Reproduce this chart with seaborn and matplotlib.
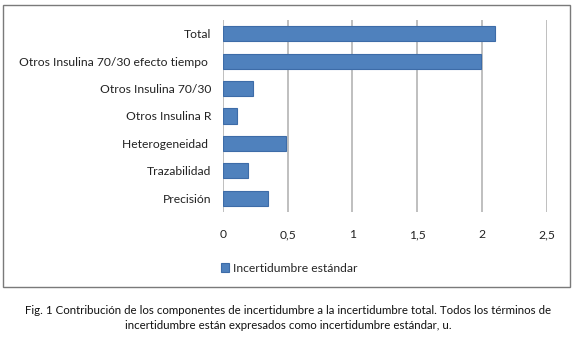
import matplotlib
matplotlib.use("Agg")
import matplotlib.pyplot as plt
import seaborn as sns
import pandas as pd
from matplotlib.patches import Rectangle

categories = ["Total", "Otros Insulina 70/30 efecto tiempo ", "Otros Insulina 70/30",
              "Otros Insulina R", "Heterogeneidad ", "Trazabilidad", "Precisión"]
values = [2.10, 1.99, 0.23, 0.11, 0.49, 0.19, 0.35]
series_name = "Incertidumbre estándar"
x_ticks = [0, 0.5, 1, 1.5, 2, 2.5]
x_tick_labels = ["0", "0,5", "1", "1,5", "2", "2,5"]
caption = ("Fig. 1 Contribución de los componentes de incertidumbre a la incertidumbre total. Todos los términos de\n"
           "incertidumbre están expresados como incertidumbre estándar, u.")

df = pd.DataFrame({"cat": categories, "val": values})

sns.set_theme(style="white")
plt.rcParams["font.family"] = ["Lato", "DejaVu Sans"]

fig = plt.figure(figsize=(5.76, 3.54), dpi=100)
fig.patch.set_facecolor("white")
ax = fig.add_axes([223/576, 1-212/354, (546.7-223)/576, (212-20)/354])

sns.barplot(data=df, x="val", y="cat", orient="h", color="#4F81BD", saturation=1,
            width=0.55, edgecolor="#3D6CA8", linewidth=0.8, label=series_name, ax=ax, zorder=3)

ax.set_xlim(0, 2.5)
ax.set_ylim(6.5, -0.5)
ax.set_xticks(x_ticks)
ax.set_xticklabels(x_tick_labels)
ax.set_xlabel("")
ax.set_ylabel("")
for s in ax.spines.values():
    s.set_visible(False)
ax.grid(False)
for t in x_ticks:
    ax.axvline(t, color="#B4B4B4", lw=1.2, zorder=1)
ax.tick_params(axis="x", length=0, pad=12.5, labelsize=8.7, colors="#222222")
ax.tick_params(axis="y", length=0, pad=8.5, labelsize=8.7, colors="#222222")

leg = ax.legend(loc="center left", bbox_to_anchor=((216-223)/(546.7-223), (212-268)/192),
                frameon=False, fontsize=8.7, handlelength=0.7, handleheight=0.7,
                handletextpad=0.3, borderaxespad=0)

fig.patches.append(Rectangle((3/576, 1-287/354), 567/576, 282/354, transform=fig.transFigure,
                             fill=False, edgecolor="#7A7A7A", lw=1.0))

fig.text(0.5, 1-318/354, caption, ha="center", va="center", fontsize=8.3,
         color="#111111", linespacing=1.45)

fig.savefig("out.png", dpi=100)
